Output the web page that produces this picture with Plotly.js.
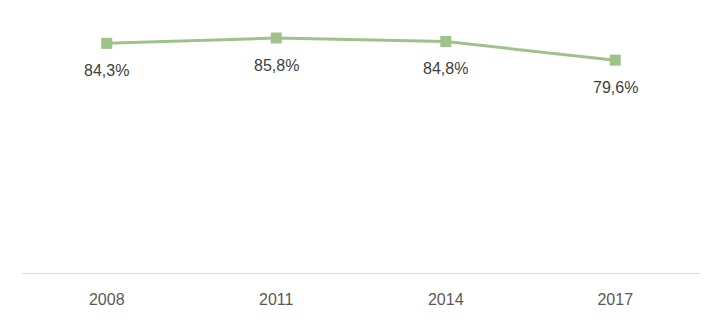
<!DOCTYPE html>
<html>
<head>
<meta charset="utf-8">
<script src="https://cdn.plot.ly/plotly-3.0.1.min.js"></script>
<style>html,body{margin:0;padding:0;background:#fff;}#chart{width:723px;height:324px;}</style>
</head>
<body>
<div id="chart"></div>
<script>
var years = ["2008", "2011", "2014", "2017"];
var values = [84.3, 85.8, 84.8, 79.6];
var labels = ["84,3%", "85,8%", "84,8%", "79,6%"];

var color = "#9DC38A";
var trace = {
  x: years, y: values, type: "scatter", mode: "lines+markers",
  line: {color: color, width: 3},
  marker: {symbol: "square", size: 11, color: color},
  hoverinfo: "none", cliponaxis: false
};
var annotations = years.map(function (yr, i) {
  return {x: i, y: values[i], xref: "x", yref: "y", text: labels[i], showarrow: false,
    yshift: -27, font: {family: "Liberation Sans, Arial, sans-serif", size: 16, color: "#404040"}};
});
var layout = {
  width: 723, height: 324,
  margin: {l: 22, r: 23, t: 23, b: 51},
  paper_bgcolor: "#fff", plot_bgcolor: "#fff",
  showlegend: false,
  xaxis: {type: "category", range: [-0.5, 3.5], showgrid: false, zeroline: false,
    showline: true, linecolor: "#D9D9D9", linewidth: 1, ticks: "", ticklen: 0,
    ticklabelstandoff: 12,
    tickfont: {family: "Liberation Sans, Arial, sans-serif", size: 16, color: "#595959"}},
  yaxis: {range: [20, 90], visible: false, showgrid: false, zeroline: false},
  annotations: annotations
};
Plotly.newPlot("chart", [trace], layout, {displayModeBar: false, staticPlot: true});
</script>
</body>
</html>
